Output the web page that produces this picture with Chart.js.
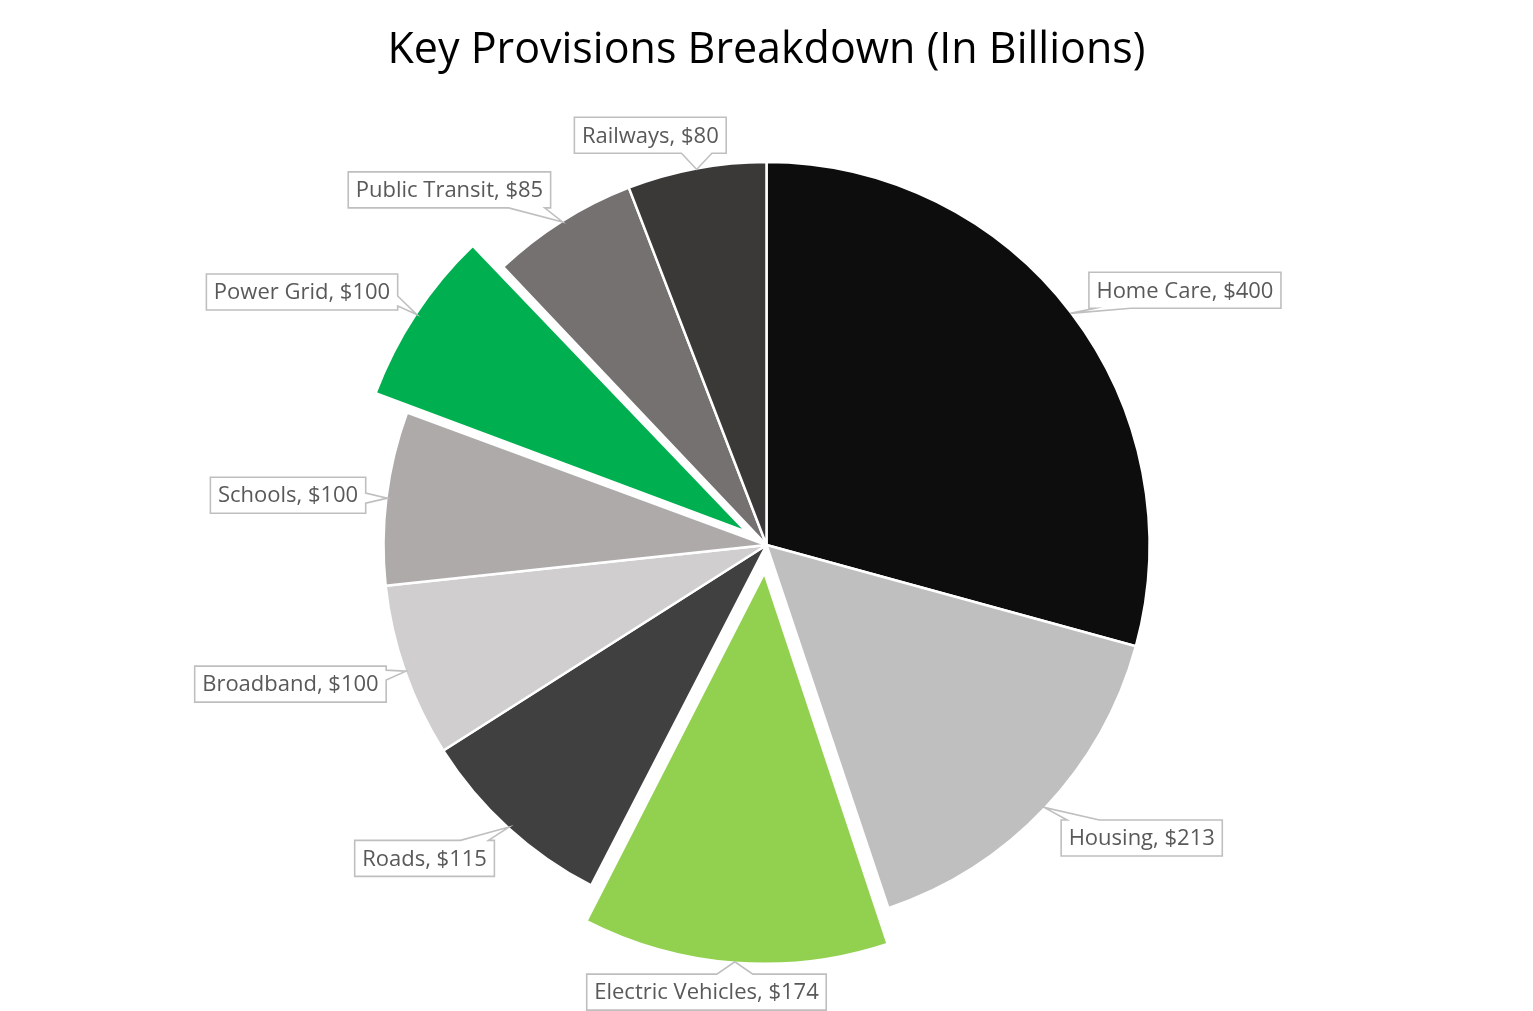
<!DOCTYPE html>
<html>
<head>
<meta charset="utf-8">
<script src="https://cdn.jsdelivr.net/npm/chart.js@4.4.1/dist/chart.umd.min.js"></script>
<style>
    html, body { margin: 0; padding: 0; background: #fff; }
    #wrap { width: 1533px; height: 1011px; position: relative; }
</style>
</head>
<body>
<div id="wrap"><canvas id="pieChart"></canvas></div>
<script>
// Data (billions of dollars)
const categories = ['Home Care', 'Housing', 'Electric Vehicles', 'Roads', 'Broadband',
    'Schools', 'Power Grid', 'Public Transit', 'Railways'];
const values = [400, 213, 174, 115, 100, 100, 100, 85, 80];

// Styling
const sliceColors = ['#0d0d0d', '#bfbfbf', '#92d050', '#404040', '#d0cece',
    '#aeaaaa', '#00b050', '#767171', '#3b3838'];
const sliceOffsets = [0, 0, 112, 0, 0, 0, 95, 0, 0];

// Callout placement: [angle shift from slice middle (deg), distance / radius, pointer side]
const calloutPlacement = [
    [6.0, 1.279, 'bottom'],
    [-5.4, 1.243, 'top'],
    [3.3, 1.178, 'top'],
    [5.1, 1.211, 'top'],
    [3.0, 1.295, 'right'],
    [-1.1, 1.256, 'right'],
    [-4.8, 1.381, 'right'],
    [-9.5, 1.243, 'bottom'],
    [-5.3, 1.112, 'bottom']
];

const labelFont = '22px "Open Sans"';

// Same shift Chart.js v4 applies to an arc with an offset
function arcShift(arc) {
    const off = (arc.options.offset || 0) / 4;
    const fix = 1 - Math.sin(Math.min(Math.PI, arc.circumference || 0));
    const total = off + off * fix;
    const mid = (arc.startAngle + arc.endAngle) / 2;
    return { x: Math.cos(mid) * total, y: Math.sin(mid) * total };
}

const calloutPlugin = {
    id: 'callouts',
    afterDraw(chart) {
        const ctx = chart.ctx;
        const arcs = chart.getDatasetMeta(0).data;
        ctx.save();
        ctx.font = labelFont;
        ctx.textAlign = 'center';
        ctx.textBaseline = 'middle';

        arcs.forEach((arc, i) => {
            const r = arc.outerRadius;
            const mid = (arc.startAngle + arc.endAngle) / 2;
            const shift = arcShift(arc);
            const tip = {
                x: arc.x + shift.x + Math.cos(mid) * (r - 1),
                y: arc.y + shift.y + Math.sin(mid) * (r - 1)
            };

            const [dAng, dist, side] = calloutPlacement[i];
            const a = mid + dAng * Math.PI / 180;
            const cx = arc.x + Math.cos(a) * r * dist;
            const cy = arc.y + Math.sin(a) * r * dist;

            const text = `${categories[i]}, $${values[i]}`;
            const w = ctx.measureText(text).width + 15;
            const h = 36;
            const L = cx - w / 2, R = cx + w / 2, T = cy - h / 2, B = cy + h / 2;

            // pointer base on the chosen edge
            let pts;
            if (side === 'top' || side === 'bottom') {
                const half = Math.min(w * 0.1, 18);
                const c = Math.max(L + half + 6, Math.min(R - half - 6, tip.x));
                const y = side === 'top' ? T : B;
                const b0 = [c - half, y], b1 = [c + half, y];
                pts = side === 'top'
                    ? [[L, T], b0, [tip.x, tip.y], b1, [R, T], [R, B], [L, B]]
                    : [[L, T], [R, T], [R, B], b1, [tip.x, tip.y], b0, [L, B]];
            } else {
                const half = 5;
                const c = Math.max(T + half + 4, Math.min(B - half - 4, tip.y));
                const x = side === 'left' ? L : R;
                const b0 = [x, c - half], b1 = [x, c + half];
                pts = side === 'right'
                    ? [[L, T], [R, T], b0, [tip.x, tip.y], b1, [R, B], [L, B]]
                    : [[L, T], [R, T], [R, B], [L, B], b1, [tip.x, tip.y], b0];
            }

            ctx.beginPath();
            pts.forEach((p, k) => k ? ctx.lineTo(p[0], p[1]) : ctx.moveTo(p[0], p[1]));
            ctx.closePath();
            ctx.fillStyle = '#ffffff';
            ctx.fill();
            ctx.strokeStyle = '#bfbfbf';
            ctx.lineWidth = 1.6;
            ctx.lineJoin = 'miter';
            ctx.stroke();

            ctx.fillStyle = '#595959';
            ctx.fillText(text, cx, cy + 1);
        });

        ctx.restore();
    }
};

new Chart(document.getElementById('pieChart'), {
    type: 'pie',
    data: {
        labels: categories,
        datasets: [{
            data: values,
            backgroundColor: sliceColors,
            borderColor: '#ffffff',
            borderWidth: 2.5,
            offset: sliceOffsets,
            radius: 383
        }]
    },
    options: {
        responsive: true,
        maintainAspectRatio: false,
        animation: false,
        layout: { padding: 0 },
        plugins: {
            legend: { display: false },
            tooltip: { enabled: false },
            title: {
                display: true,
                text: 'Key Provisions Breakdown (In Billions)',
                color: '#000000',
                font: { family: '"Open Sans"', size: 43, weight: 'normal', lineHeight: 1.2 },
                padding: { top: 25, bottom: 2.4 }
            }
        }
    },
    plugins: [calloutPlugin]
});
</script>
</body>
</html>
